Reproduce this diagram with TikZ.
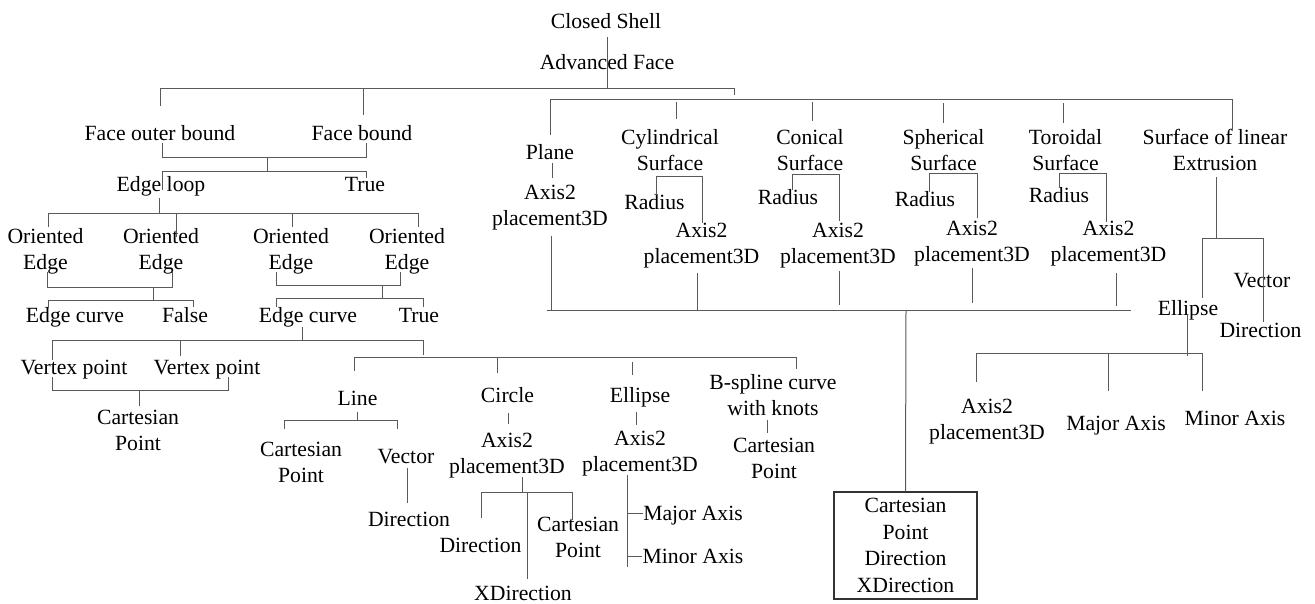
\documentclass[tikz,border=0pt]{standalone}
\usepackage{fontspec}
\setmainfont{Liberation Serif}
\newcommand\labfont{\fontsize{21.7}{26.5}\selectfont}
\tikzset{
  lbl/.style={anchor=north, inner sep=0pt, align=center, font=\labfont, yshift=11.5pt},
  ln/.style={draw=black!65, line width=1pt},
  boxnode/.style={draw=black!80, line width=1.2pt, minimum width=143pt, minimum height=107pt, inner sep=0pt, align=center, font=\labfont}
}
\begin{document}
\begin{tikzpicture}[x=1pt,y=-1pt]
\useasboundingbox[fill=white] (0,0) rectangle (1315,603);

% ---------- labels ----------
\node[lbl] (cs)   at (606,21)   {\strut Closed Shell};
\node[lbl] (af)   at (607,62)   {\strut Advanced Face};
\node[lbl] (fob)  at (160,133)  {\strut Face outer bound};
\node[lbl] (fb)   at (362,133)  {\strut Face bound};
\node[lbl] (el)   at (161,184)  {\strut Edge loop};
\node[lbl] (tr1)  at (365,184)  {\strut True};
\node[lbl] (oe1)  at (45.5,236) {\strut Oriented\\Edge};
\node[lbl] (oe2)  at (161,236)  {\strut Oriented\\Edge};
\node[lbl] (oe3)  at (291,236)  {\strut Oriented\\Edge};
\node[lbl] (oe4)  at (407,236)  {\strut Oriented\\Edge};
\node[lbl] (ec1)  at (75,315)   {\strut Edge curve};
\node[lbl] (fa)   at (185,315)  {\strut False};
\node[lbl] (ec2)  at (308,315)  {\strut Edge curve};
\node[lbl] (tr2)  at (419,315)  {\strut True};
\node[lbl] (vp1)  at (74,367)   {\strut Vertex point};
\node[lbl] (vp2)  at (207,367)  {\strut Vertex point};
\node[lbl] (cp1)  at (138,417)  {\strut Cartesian\\Point};
\node[lbl] (line) at (357.5,398) {\strut Line};
\node[lbl] (cp2)  at (301,449)  {\strut Cartesian\\Point};
\node[lbl] (vec)  at (406,456)  {\strut Vector};
\node[lbl] (dir1) at (409,519)  {\strut Direction};
\node[lbl] (circ) at (507.5,395) {\strut Circle};
\node[lbl] (ax1)  at (507,440)  {\strut Axis2\\placement3D};
\node[lbl] (dir2) at (480.5,545) {\strut Direction};
\node[lbl] (cp3)  at (578,524)  {\strut Cartesian\\Point};
\node[lbl] (xdir) at (523,593)  {\strut XDirection};
\node[lbl] (ell)  at (640,395)  {\strut Ellipse};
\node[lbl] (ax2)  at (640,438)  {\strut Axis2\\placement3D};
\node[lbl] (maj)  at (693,513)  {\strut Major Axis};
\node[lbl] (min)  at (693,556)  {\strut Minor Axis};
\node[lbl] (bsp)  at (773,382)  {\strut B-spline curve\\with knots};
\node[lbl] (cp4)  at (774,445)  {\strut Cartesian\\Point};
\node[lbl] (plane) at (550,152) {\strut Plane};
\node[lbl] (ax3)  at (550,192)  {\strut Axis2\\placement3D};
\node[lbl] (cyl)  at (670,137)  {\strut Cylindrical\\Surface};
\node[lbl] (rad1) at (654.5,202) {\strut Radius};
\node[lbl] (ax4)  at (701.5,230) {\strut Axis2\\placement3D};
\node[lbl] (con)  at (810,137)  {\strut Conical\\Surface};
\node[lbl] (rad2) at (788,197)  {\strut Radius};
\node[lbl] (ax5)  at (838,230)  {\strut Axis2\\placement3D};
\node[lbl] (sph)  at (943.5,137) {\strut Spherical\\Surface};
\node[lbl] (rad3) at (925,199)  {\strut Radius};
\node[lbl] (ax6)  at (972,228)  {\strut Axis2\\placement3D};
\node[lbl] (tor)  at (1065.5,137) {\strut Toroidal\\Surface};
\node[lbl] (rad4) at (1059,195) {\strut Radius};
\node[lbl] (ax7)  at (1108.5,228) {\strut Axis2\\placement3D};
\node[lbl] (sle)  at (1215,137) {\strut Surface of linear\\Extrusion};
\node[lbl] (ell2) at (1188,308) {\strut Ellipse};
\node[lbl] (vec2) at (1262,280) {\strut Vector};
\node[lbl] (dir3) at (1260.5,330) {\strut Direction};
\node[lbl] (ax8)  at (987,406)  {\strut Axis2\\placement3D};
\node[lbl] (maj2) at (1116,423) {\strut Major Axis};
\node[lbl] (min2) at (1235,418) {\strut Minor Axis};
\node[boxnode] (box) at (905.5,545.5) {Cartesian\\Point\\Direction\\XDirection};

% ---------- connectors ----------
% top
\draw[ln] (607,37) -- (607,88);
\draw[ln] (160,106) -- (160,88) -- (734,88) -- (734,95);
\draw[ln] (363,88) -- (363,115);
\draw[ln] (550,135) -- (550,99) -- (1232,99) -- (1232,130);
\draw[ln] (676,102) -- (676,119);
\draw[ln] (812,102) -- (812,121);
\draw[ln] (943,103) -- (943,123);
\draw[ln] (1063,103) -- (1063,123);
% surfaces
\draw[ln] (552,163) -- (552,178);
\draw[ln] (551,236) -- (551,310);
\draw[ln] (547,310) -- (1131,310);
\draw[ln] (656,195) -- (656,176) -- (702,176) -- (702,223);
\draw[ln] (697,273) -- (697,310);
\draw[ln] (792,190) -- (792,174) -- (839,174) -- (839,221);
\draw[ln] (839,271) -- (839,305);
\draw[ln] (929,192) -- (929,173) -- (977,173) -- (977,218);
\draw[ln] (972,268) -- (972,303);
\draw[ln] (1059,187) -- (1059,173) -- (1106,173) -- (1106,222);
\draw[ln] (1116,273) -- (1116,306);
\draw[ln] (906,310) -- (box.north);
% surface of linear extrusion
\draw[ln] (1216,177) -- (1216,238);
\draw[ln] (1202,298) -- (1202,238) -- (1263,238) -- (1263,322);
\draw[ln] (1187,315) -- (1187,356);
\draw[ln] (976,382) -- (976,353) -- (1202,353) -- (1202,391);
\draw[ln] (1108,353) -- (1108,391);
% left tree
\draw[ln] (162,143) -- (162,157) -- (366,157) -- (366,143);
\draw[ln] (267,157) -- (267,171);
\draw[ln] (162,190) -- (162,171) -- (366,171) -- (366,178);
\draw[ln] (159,198) -- (159,213);
\draw[ln] (48,227) -- (48,213) -- (418,213) -- (418,227);
\draw[ln] (176,213) -- (176,237);
\draw[ln] (292,213) -- (292,227);
\draw[ln] (47,272) -- (47,287) -- (172,287) -- (172,272);
\draw[ln] (153,287) -- (153,300);
\draw[ln] (48,308) -- (48,300) -- (193,300) -- (193,307);
\draw[ln] (276,272) -- (276,285) -- (400,285) -- (400,272);
\draw[ln] (382,285) -- (382,298);
\draw[ln] (276,307) -- (276,298) -- (423,298) -- (423,307);
\draw[ln] (302,327) -- (302,340);
\draw[ln] (52,360) -- (52,340) -- (423,340) -- (423,355);
\draw[ln] (180,340) -- (180,356);
\draw[ln] (354,371) -- (354,357) -- (796,357) -- (796,369);
\draw[ln] (52,377) -- (52,390) -- (228,390) -- (228,377);
\draw[ln] (139,390) -- (139,406);
% line
\draw[ln] (357,412) -- (357,420);
\draw[ln] (284,429) -- (284,420) -- (397,420) -- (397,429);
\draw[ln] (407,468) -- (407,503);
% circle
\draw[ln] (497,357) -- (497,373);
\draw[ln] (508,413) -- (508,424);
\draw[ln] (522,477) -- (522,492);
\draw[ln] (481,518) -- (481,492) -- (572,492) -- (572,520);
\draw[ln] (527,492) -- (527,579);
% ellipse
\draw[ln] (632,362) -- (632,375);
\draw[ln] (636,412) -- (636,425);
\draw[ln] (627,475) -- (627,567);
\draw[ln] (627,513) -- (maj.west |- 0,513);
\draw[ln] (627,556) -- (min.west |- 0,556);
% b-spline
\draw[ln] (767,420) -- (767,433);
\end{tikzpicture}
\end{document}
